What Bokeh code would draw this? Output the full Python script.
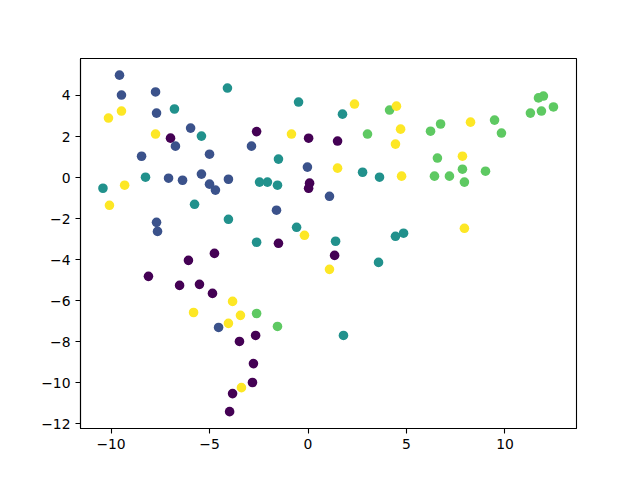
from bokeh.plotting import figure
from bokeh.models import Range1d, FixedTicker, CustomJSTickFormatter, ColumnDataSource
from bokeh.embed import file_html
from bokeh.resources import INLINE

# category 0 (purple)
x0 = [-6.98, -2.61, 0.03, 1.50, 0.08, 0.03, -1.50, 1.35, -4.75, -6.07, -8.10, -6.52, -5.51, -4.85, -3.48, -2.66, -2.77, -2.82, -3.83, -3.98]
y0 = [1.92, 2.24, 1.92, 1.78, -0.27, -0.52, -3.20, -3.79, -3.69, -4.03, -4.81, -5.25, -5.20, -5.64, -7.98, -7.69, -9.06, -9.98, -10.52, -11.40]
# category 1 (blue)
x1 = [-9.57, -9.47, -7.74, -7.69, -5.96, -8.45, -6.73, -5.00, -7.08, -6.37, -5.41, -5.00, -4.70, -4.04, -2.87, -7.69, -7.64, -1.60, -0.03, 1.09, -4.54]
y1 = [4.99, 4.02, 4.17, 3.14, 2.41, 1.04, 1.53, 1.14, -0.03, -0.13, 0.17, -0.32, -0.61, -0.08, 1.53, -2.18, -2.62, -1.59, 0.51, -0.91, -7.30]
# category 2 (teal)
x2 = [-4.09, -0.48, 1.75, -6.78, -5.41, -1.50, -8.25, -10.41, -5.76, -4.04, -2.46, -2.06, -1.55, -0.58, -2.61, 1.40, 2.77, 3.63, 3.58, 4.44, 4.85, 1.80]
y2 = [4.36, 3.68, 3.09, 3.34, 2.02, 0.90, 0.02, -0.52, -1.30, -2.03, -0.22, -0.22, -0.37, -2.42, -3.15, -3.10, 0.26, 0.02, -4.13, -2.86, -2.71, -7.69]
# category 3 (green)
x3 = [11.95, 11.70, 12.46, 11.85, 11.29, 6.73, 6.22, 9.47, 9.82, 4.14, 3.02, 6.57, 7.84, 9.01, 6.42, 7.18, 7.94, -2.61, -1.55]
y3 = [3.97, 3.88, 3.44, 3.24, 3.14, 2.61, 2.26, 2.80, 2.17, 3.29, 2.12, 0.95, 0.41, 0.31, 0.07, 0.07, -0.22, -6.62, -7.25]
# category 4 (yellow)
x4 = [-10.13, -9.47, -9.31, -10.08, -7.74, -0.84, 2.36, 4.49, 4.70, 4.44, 4.75, 8.25, 7.84, 7.94, 1.50, -0.18, 1.09, -5.81, -3.83, -3.43, -4.04, -3.38]
y4 = [2.90, 3.24, -0.37, -1.35, 2.12, 2.12, 3.58, 3.48, 2.36, 1.63, 0.07, 2.70, 1.04, -2.47, 0.46, -2.81, -4.47, -6.57, -6.03, -6.71, -7.10, -10.23]

palette = ["#440154", "#3b528b", "#21918c", "#5ec962", "#fde725"]
xticks = [-10, -5, 0, 5, 10]
yticks = [-12, -10, -8, -6, -4, -2, 0, 2, 4]

xs, ys, cs = [], [], []
for xa, ya, c in zip([x0, x1, x2, x3, x4], [y0, y1, y2, y3, y4], palette):
    xs += xa
    ys += ya
    cs += [c] * len(xa)
src = ColumnDataSource(dict(x=xs, y=ys, c=cs))

p = figure(width=640, height=480, output_backend="svg", toolbar_location=None,
           x_range=Range1d(-11.55, 13.63), y_range=Range1d(-12.22, 5.80),
           min_border_left=80, min_border_right=64, min_border_top=58, min_border_bottom=52)
p.scatter("x", "y", source=src, size=9.6, fill_color="c", line_color=None)

p.xgrid.visible = False
p.ygrid.visible = False
p.outline_line_color = "black"
p.outline_line_width = 1.1
p.background_fill_color = "white"
p.border_fill_color = "white"

fmt = CustomJSTickFormatter(code="return tick < 0 ? '\u2212' + (-tick) : tick.toString();")
p.xaxis.ticker = FixedTicker(ticks=xticks)
p.yaxis.ticker = FixedTicker(ticks=yticks)
for ax in (p.xaxis[0], p.yaxis[0]):
    ax.formatter = fmt
    ax.axis_line_color = "black"
    ax.axis_line_width = 1.1
    ax.major_tick_line_color = "black"
    ax.major_tick_line_width = 1.1
    ax.major_tick_out = 5
    ax.major_tick_in = 0
    ax.minor_tick_line_color = None
    ax.major_label_text_font = "DejaVu Sans"
    ax.major_label_text_font_size = "13.9px"
    ax.major_label_text_color = "black"
    ax.major_label_standoff = 5

open("out.html", "w").write(file_html(p, INLINE))
